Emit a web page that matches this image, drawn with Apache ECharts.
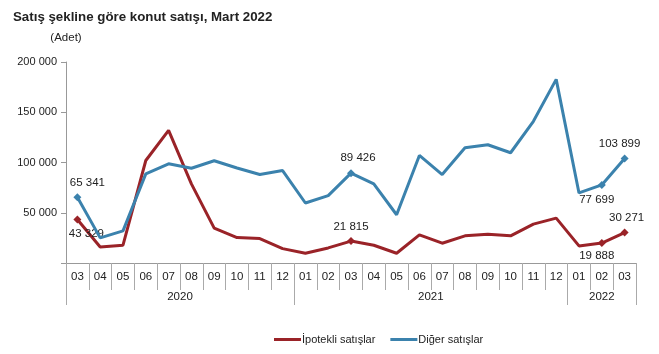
<!DOCTYPE html>
<html><head><meta charset="utf-8">
<script src="https://cdn.jsdelivr.net/npm/echarts@6/dist/echarts.min.js"></script>
<style>html,body{margin:0;padding:0;background:#fff}#c{width:659px;height:354px}</style>
</head><body><div id="c"></div>
<script>
var periods = ['2020-03','2020-04','2020-05','2020-06','2020-07','2020-08','2020-09','2020-10','2020-11','2020-12',
  '2021-01','2021-02','2021-03','2021-04','2021-05','2021-06','2021-07','2021-08','2021-09','2021-10','2021-11','2021-12',
  '2022-01','2022-02','2022-03'];
var ipotekli = [43329,16000,17700,102000,132000,78700,34700,25300,24300,14300,
  9700,15000,21815,17700,9700,28000,19700,27000,28700,27000,38700,44700,
  17000,19888,30271];
var diger = [65341,25000,32000,88700,98700,94300,101700,94500,88000,92000,
  59700,67000,89426,78700,48000,107000,88000,114700,117700,109700,141000,182700,
  69700,77699,103899];
var yTicks = [0,50000,100000,150000,200000];
var labeledIdx = [0,12,23,24];
var seriesNames = ['İpotekli satışlar','Diğer satışlar'];

var months = periods.map(function(p){return p.slice(5);});
var yearsList = [], yearStart = {}, yearEnd = {};
periods.forEach(function(p,i){var y=p.slice(0,4); if(!(y in yearStart)){yearStart[y]=i;yearsList.push(y);} yearEnd[y]=i+1;});
var yearCenters = yearsList.map(function(y){return (yearStart[y]+yearEnd[y])/2;});
var yearBounds = [0].concat(yearsList.map(function(y){return yearEnd[y];}));

function fmt(v){return String(v).replace(/\B(?=(\d{3})+(?!\d))/g,' ');}

var FONT = 'Liberation Sans, Arial, sans-serif';
var labelPos = {
  0: {0:{position:'bottom',offset:[9,0]},12:{position:'top',offset:[0,0]},23:{position:'bottom',offset:[-5,-1]},24:{position:'top',offset:[2,-1]}},
  1: {0:{position:'top',offset:[10,-1]},12:{position:'top',offset:[7,-1]},23:{position:'bottom',offset:[-5,1]},24:{position:'top',offset:[-5,-1]}}
};
function buildData(arr, si){
  return arr.map(function(v,i){
    if(labeledIdx.indexOf(i)>=0){
      var lp = labelPos[si][i];
      return {value:v, symbol:'diamond', symbolSize:8,
        label:{show:true, position:lp.position, offset:lp.offset, distance:4, formatter:function(p){return fmt(p.value);},
          color:'#222', fontSize:11.5, fontFamily:FONT}};
    }
    return {value:v, symbol:'none'};
  });
}

var colors = ['#9a2328','#3b82ad'];
var chart = echarts.init(document.getElementById('c'));
chart.setOption({
  animation:false,
  textStyle:{fontFamily:FONT},
  title:{text:'Satış şekline göre konut satışı, Mart 2022', left:8, top:6,
    textStyle:{fontSize:13.3, fontWeight:'bold', color:'#222', fontFamily:FONT}},
  legend:{bottom:4, left:269, itemWidth:27, itemHeight:3, itemGap:15, icon:'rect',
    textStyle:{fontSize:11, color:'#222', padding:[0,0,0,-4]}, data:seriesNames},
  grid:{left:66, right:23, top:62, bottom:91, containLabel:false},
  xAxis:[{
    type:'category', data:months, boundaryGap:true, position:'bottom',
    axisLine:{lineStyle:{color:'#999'}},
    axisTick:{show:true, interval:0, length:27, lineStyle:{color:'#aaa'}},
    axisLabel:{interval:0, color:'#222', fontSize:11.5, margin:8},
    splitLine:{show:false}
  },{
    type:'value', min:0, max:periods.length, position:'bottom', offset:27,
    axisLine:{show:false},
    axisTick:{show:true, customValues:yearBounds, length:15, lineStyle:{color:'#aaa'}},
    axisLabel:{customValues:yearCenters, color:'#222', fontSize:11.5, margin:1,
      formatter:function(v){var k=yearCenters.indexOf(v); return k>=0?yearsList[k]:'';}},
    splitLine:{show:false}
  }],
  yAxis:{type:'value', min:yTicks[0], max:yTicks[yTicks.length-1], interval:yTicks[1]-yTicks[0],
    name:'(Adet)', nameGap:18, nameTextStyle:{color:'#222', fontSize:11.5, align:'center'},
    axisLine:{show:true, lineStyle:{color:'#999'}},
    axisTick:{show:true, length:5, lineStyle:{color:'#999'}},
    axisLabel:{color:'#222', fontSize:11, margin:9, formatter:function(v){return v===0?'':fmt(v);}},
    splitLine:{show:false}
  },
  series:[
    {name:seriesNames[0], type:'line', data:buildData(ipotekli,0), color:colors[0], lineStyle:{width:3, color:colors[0]}, itemStyle:{color:colors[0]}, z:2},
    {name:seriesNames[1], type:'line', data:buildData(diger,1), color:colors[1], lineStyle:{width:3, color:colors[1]}, itemStyle:{color:colors[1]}, z:3}
  ]
});
</script></body></html>
